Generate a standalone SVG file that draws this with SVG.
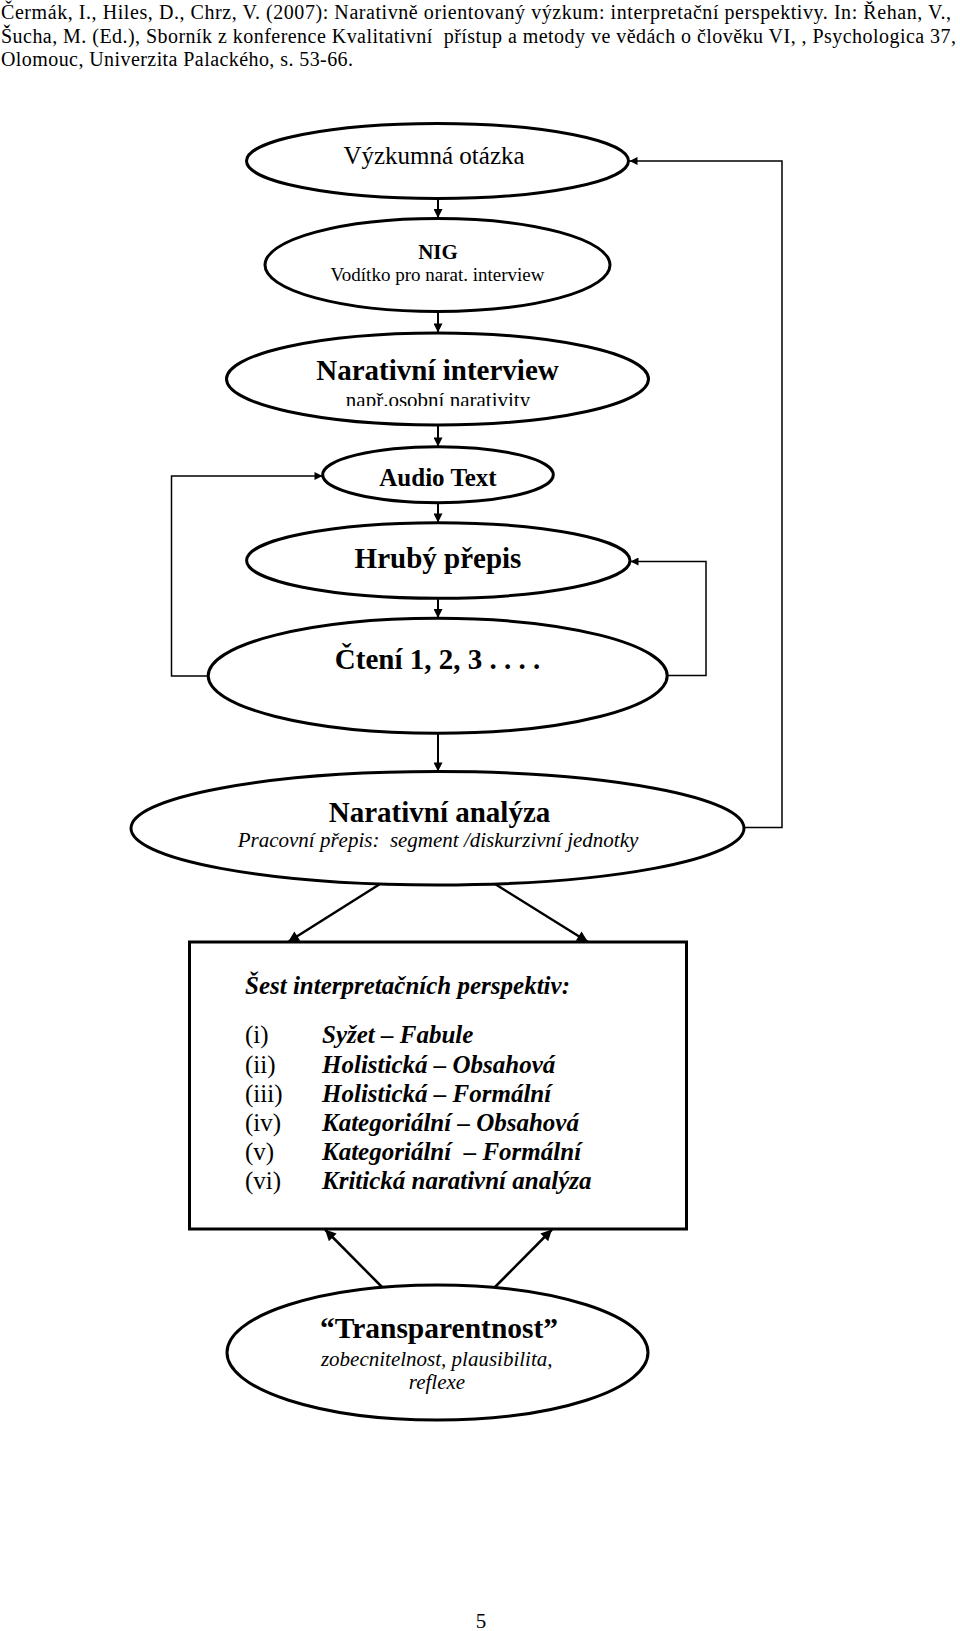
<svg xmlns="http://www.w3.org/2000/svg" width="960" height="1631" viewBox="0 0 960 1631">
<style>
text { font-family: "Liberation Serif", "Times New Roman", serif; fill: #000; }
.hdr { font-size: 20px; white-space: pre; }
.c { text-anchor: middle; }
.b { font-weight: bold; }
.i { font-style: italic; }
.node { fill: #fff; stroke: #000; stroke-width: 3; }
.v { stroke: #000; stroke-width: 2; fill: none; }
.loop { stroke: #000; stroke-width: 1.5; fill: none; }
.d { stroke: #000; stroke-width: 2.5; fill: none; }
</style>
<defs>
<marker id="ah" viewBox="0 0 10 10" refX="10" refY="5" markerWidth="10" markerHeight="9" markerUnits="userSpaceOnUse" orient="auto">
<path d="M0,0 L10,5 L0,10 z" fill="#000"/>
</marker>
<marker id="ahs" viewBox="0 0 10 10" refX="10" refY="5" markerWidth="9" markerHeight="8" markerUnits="userSpaceOnUse" orient="auto">
<path d="M0,0 L10,5 L0,10 z" fill="#000"/>
</marker>
<marker id="ahd" viewBox="0 0 10 10" refX="10" refY="5" markerWidth="13" markerHeight="11" markerUnits="userSpaceOnUse" orient="auto">
<path d="M0,0 L10,5 L0,10 z" fill="#000"/>
</marker>
<clipPath id="clipNI">
<rect x="200" y="380" width="500" height="26"/>
</clipPath>
</defs>
<rect x="0" y="0" width="960" height="1631" fill="#fff"/>

<g id="header">
<text class="hdr" x="1" y="19" textLength="950">Čermák, I., Hiles, D., Chrz, V. (2007): Narativně orientovaný výzkum: interpretační perspektivy. In: Řehan, V.,</text>
<text class="hdr" x="1" y="42.5" textLength="955">Šucha, M. (Ed.), Sborník z konference Kvalitativní  přístup a metody ve vědách o člověku VI, , Psychologica 37,</text>
<text class="hdr" x="1" y="66" textLength="352">Olomouc, Univerzita Palackého, s. 53-66.</text>
</g>

<g id="connectors">
<line class="v" x1="438" y1="198.5" x2="438" y2="218" marker-end="url(#ah)"/>
<line class="v" x1="438" y1="312" x2="438" y2="332.5" marker-end="url(#ah)"/>
<line class="v" x1="438" y1="425.5" x2="438" y2="446.5" marker-end="url(#ah)"/>
<line class="v" x1="438" y1="503" x2="438" y2="522.5" marker-end="url(#ah)"/>
<line class="v" x1="438" y1="598.5" x2="438" y2="618" marker-end="url(#ah)"/>
<line class="v" x1="438" y1="733.5" x2="438" y2="771.5" marker-end="url(#ah)"/>
<polyline class="loop" points="744,827.5 782,827.5 782,161 629.5,161" marker-end="url(#ahs)"/>
<polyline class="loop" points="667,675.5 706,675.5 706,561.5 630.5,561.5" marker-end="url(#ahs)"/>
<polyline class="loop" points="208.5,676 171.5,676 171.5,476 322.5,476" marker-end="url(#ahs)"/>
<line class="d" x1="380" y1="884" x2="288" y2="942" marker-end="url(#ahd)"/>
<line class="d" x1="495" y1="884" x2="588" y2="942" marker-end="url(#ahd)"/>
<line class="d" x1="382" y1="1287" x2="325" y2="1229.5" marker-end="url(#ahd)"/>
<line class="d" x1="495" y1="1287" x2="552" y2="1229.5" marker-end="url(#ahd)"/>
</g>

<g id="n1">
<ellipse class="node" cx="437.5" cy="161" rx="191" ry="37.5"/>
<text class="c" x="434" y="164" font-size="25">Výzkumná otázka</text>
</g>

<g id="n2">
<ellipse class="node" cx="437.5" cy="265" rx="172.5" ry="46.5"/>
<text class="c b" x="438" y="258.5" font-size="21">NIG</text>
<text class="c" x="437.5" y="280.5" font-size="19">Vodítko pro narat. interview</text>
</g>

<g id="n3">
<ellipse class="node" cx="437.5" cy="379" rx="211" ry="46"/>
<text class="c b" x="437.5" y="380" font-size="29">Narativní interview</text>
<text class="c" x="438" y="407" font-size="21" clip-path="url(#clipNI)">např.osobní narativity</text>
</g>

<g id="n4">
<ellipse class="node" cx="438" cy="474.7" rx="115.3" ry="28"/>
<text class="c b" x="438" y="485.5" font-size="25">Audio Text</text>
</g>

<g id="n5">
<ellipse class="node" cx="438.3" cy="560.5" rx="191.7" ry="37.8"/>
<text class="c b" x="438" y="568.3" font-size="29">Hrubý přepis</text>
</g>

<g id="n6">
<ellipse class="node" cx="437.7" cy="675.8" rx="229.5" ry="57.5"/>
<text class="c b" x="437.5" y="669.3" font-size="29">Čtení 1, 2, 3 . . . .</text>
</g>

<g id="n7">
<ellipse class="node" cx="437.5" cy="828.3" rx="306.5" ry="56.7"/>
<text class="c b" x="439.5" y="821.7" font-size="29">Narativní analýza</text>
<text class="c i" x="438" y="846.7" font-size="21" style="white-space:pre">Pracovní přepis:  segment /diskurzivní jednotky</text>
</g>

<g id="n8">
<rect class="node" x="189.5" y="942" width="497" height="287"/>
<text class="b i" x="245" y="994" font-size="25">Šest interpretačních perspektiv:</text>
<text x="245" y="1043" font-size="25">(i)</text>
<text x="245" y="1072.5" font-size="25">(ii)</text>
<text x="245" y="1101.7" font-size="25">(iii)</text>
<text x="245" y="1131" font-size="25">(iv)</text>
<text x="245" y="1160" font-size="25">(v)</text>
<text x="245" y="1189" font-size="25">(vi)</text>
<text class="b i" x="322" y="1043" font-size="25">Syžet – Fabule</text>
<text class="b i" x="322" y="1072.5" font-size="25">Holistická – Obsahová</text>
<text class="b i" x="322" y="1101.7" font-size="25">Holistická – Formální</text>
<text class="b i" x="322" y="1131" font-size="25">Kategoriální – Obsahová</text>
<text class="b i" x="322" y="1160" font-size="25" style="white-space:pre">Kategoriální  – Formální</text>
<text class="b i" x="322" y="1189" font-size="25">Kritická narativní analýza</text>
</g>

<g id="n9">
<ellipse class="node" cx="437.5" cy="1352.5" rx="210.5" ry="67.5"/>
<text class="c b" x="439" y="1338.3" font-size="29.5">“Transparentnost”</text>
<text class="c i" x="436.7" y="1366" font-size="21">zobecnitelnost, plausibilita,</text>
<text class="c i" x="437" y="1389.3" font-size="21">reflexe</text>
</g>

<g id="page">
<text class="c" x="481" y="1628" font-size="21">5</text>
</g>
</svg>
